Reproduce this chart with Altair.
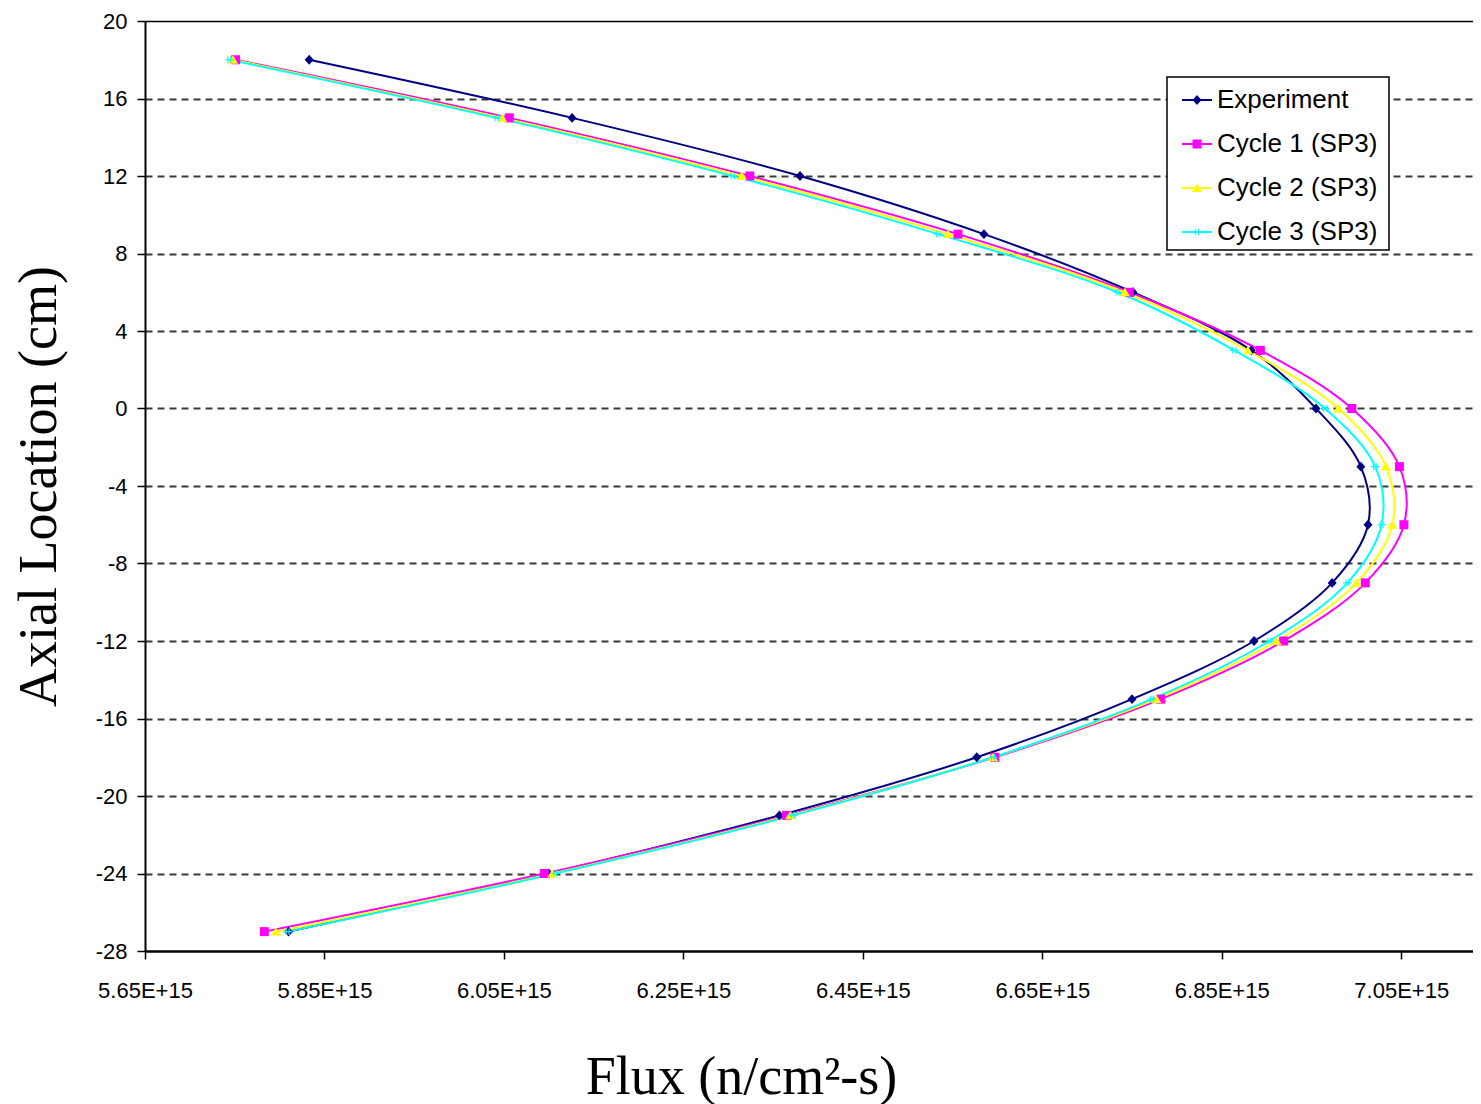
import altair as alt
import pandas as pd

series_names = ["Experiment", "Cycle 1 (SP3)", "Cycle 2 (SP3)", "Cycle 3 (SP3)"]
axial_cm = [18, 15, 12, 9, 6, 3, 0, -3, -6, -9, -12, -15, -18, -21, -24, -27]

# flux values in units of 1E+15 n/cm2-s
flux_experiment = [5.833, 6.126, 6.380, 6.585, 6.751, 6.883, 6.955, 7.005,
                   7.013, 6.973, 6.886, 6.750, 6.577, 6.357, 6.100, 5.810]
flux_cycle1 = [5.751, 6.056, 6.324, 6.556, 6.747, 6.893, 6.995, 7.048,
               7.053, 7.010, 6.919, 6.782, 6.597, 6.365, 6.095, 5.783]
flux_cycle2 = [5.748, 6.048, 6.315, 6.545, 6.742, 6.879, 6.980, 7.033,
               7.040, 7.000, 6.911, 6.777, 6.595, 6.369, 6.104, 5.796]
flux_cycle3 = [5.744, 6.042, 6.305, 6.534, 6.734, 6.864, 6.965, 7.021,
               7.028, 6.990, 6.903, 6.772, 6.595, 6.372, 6.107, 5.809]

x_ticks = [5.65e15, 5.85e15, 6.05e15, 6.25e15, 6.45e15, 6.65e15, 6.85e15, 7.05e15]
y_ticks = [-28, -24, -20, -16, -12, -8, -4, 0, 4, 8, 12, 16, 20]

series_colors = ["#000080", "#FF00FF", "#FFFF00", "#00FFFF"]
marker_paths = [
    "M0,-0.33L0.3,0L0,0.33L-0.3,0Z",
    "M-0.3,-0.3H0.3V0.3H-0.3Z",
    "M0,-0.3L0.34,0.26L-0.34,0.26Z",
    "M-0.14,-0.22H-0.06V0.22H-0.14Z M0.06,-0.22H0.14V0.22H0.06Z M-0.3,-0.04H0.3V0.04H-0.3Z",
]

rows = []
for name, vals in zip(series_names, [flux_experiment, flux_cycle1, flux_cycle2, flux_cycle3]):
    for yv, fv in zip(axial_cm, vals):
        rows.append({"Series": name, "Axial": yv, "Flux": fv * 1e15})
df = pd.DataFrame(rows)

legend_df = pd.DataFrame({"Series": series_names, "idx": list(range(len(series_names)))})

x_enc = alt.X(
    "Flux:Q",
    scale=alt.Scale(domain=[5.65e15, 7.13e15], nice=False, zero=False),
    axis=alt.Axis(
        values=x_ticks,
        labelExpr="format(datum.value / 1e15, '.2f') + 'E+15'",
        title="Flux (n/cm²-s)",
        titleFont="Liberation Serif",
        titleFontSize=54,
        titleFontWeight="normal",
        titleColor="black",
        titleX=596,
        titleY=126,
        titleAlign="center",
        titleBaseline="middle",
        labelFont="Liberation Sans",
        labelFontSize=22,
        labelColor="black",
        labelPadding=21,
        labelFlush=False,
        tickSize=8,
        tickColor="black",
        tickWidth=1.5,
        domainColor="black",
        domainWidth=2.5,
        grid=False,
    ),
)

y_enc = alt.Y(
    "Axial:Q",
    scale=alt.Scale(domain=[-28, 20], nice=False, zero=False),
    axis=alt.Axis(
        values=y_ticks,
        labelExpr="'' + datum.value",
        title="Axial Location (cm)",
        titleFont="Liberation Serif",
        titleFontSize=54,
        titleFontWeight="normal",
        titleColor="black",
        titleX=-106,
        titleY=465,
        titleAngle=270,
        titleAlign="center",
        titleBaseline="middle",
        labelFont="Liberation Sans",
        labelFontSize=22,
        labelColor="black",
        labelPadding=10,
        tickSize=8,
        tickColor="black",
        tickWidth=1.5,
        domainColor="black",
        domainWidth=2,
        grid=True,
        gridColor={"condition": {"test": "datum.value == 20", "value": "black"}, "value": "#3a3a3a"},
        gridWidth={"condition": {"test": "datum.value == 20", "value": 1.5}, "value": 2},
        gridDash={"condition": {"test": "datum.value == 20", "value": []}, "value": [7, 5]},
        gridOpacity={"condition": {"test": "datum.value == -28", "value": 0}, "value": 1},
    ),
)

stroke_enc = alt.Stroke("Series:N", sort=series_names, scale=alt.Scale(range=series_colors), legend=None)
fill_enc = alt.Fill("Series:N", sort=series_names, scale=alt.Scale(range=series_colors), legend=None)
shape_enc = alt.Shape("Series:N", sort=series_names, scale=alt.Scale(range=marker_paths), legend=None)

lines = alt.Chart(df).mark_line(interpolate="catmull-rom", strokeWidth=2).encode(
    x=x_enc,
    y=y_enc,
    stroke=stroke_enc,
    order=alt.Order("Axial:Q"),
)

points = alt.Chart(df).mark_point(filled=True, size=900, opacity=1).encode(
    x=x_enc,
    y=y_enc,
    fill=fill_enc,
    shape=shape_enc,
)

# ---- legend box (drawn in pixel space inside the plot) ----
leg_base = alt.Chart(legend_df).transform_calculate(ly="79 + 44 * datum.idx")
leg_y = alt.Y("ly:Q", scale=None, axis=None)

leg_box = alt.Chart(legend_df).transform_filter("datum.idx == 0").mark_rect(
    fill="white", stroke="black", strokeWidth=1.5
).encode(
    x=alt.value(1022), x2=alt.value(1244), y=alt.value(56), y2=alt.value(229)
)

leg_lines = leg_base.mark_rule(strokeWidth=2).encode(
    x=alt.value(1037), x2=alt.value(1067), y=leg_y, stroke=stroke_enc
)

leg_points = leg_base.mark_point(filled=True, size=900, opacity=1).encode(
    x=alt.value(1052), y=leg_y, fill=fill_enc, shape=shape_enc
)

leg_text = leg_base.mark_text(
    align="left", baseline="middle", font="Liberation Sans", fontSize=26, color="black"
).encode(
    x=alt.value(1072), y=leg_y, text="Series:N"
)

chart = (
    alt.layer(lines, points, leg_box, leg_lines, leg_points, leg_text)
    .properties(
        width=1328,
        height=930,
        padding={"left": 4, "top": 2, "right": 0, "bottom": 0},
        background="white",
    )
    .configure_view(stroke="transparent")
)

chart.save("out.html", embed_options={"renderer": "svg", "actions": False})
